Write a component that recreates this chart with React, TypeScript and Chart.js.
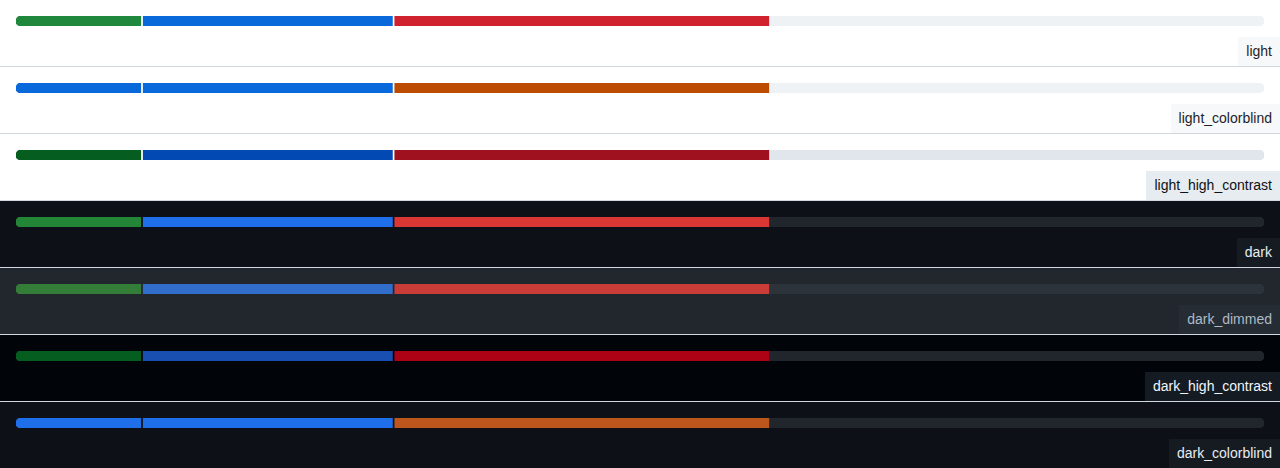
import React, { useEffect, useRef } from "react";
import { Chart, registerables } from "chart.js";

Chart.register(...registerables);

const THEMES = [
  "light",
  "light_colorblind",
  "light_high_contrast",
  "dark",
  "dark_dimmed",
  "dark_high_contrast",
  "dark_colorblind",
];
const SEGMENT_VALUES = [10, 20, 30];
const TRACK_MAX = 100;

const FIRST_COLORS = ["#1f883d", "#0969da", "#055d20", "#238636", "#347d39", "#055d20", "#1f6feb"];
const SECOND_COLORS = ["#0969da", "#0969da", "#0349b4", "#1f6feb", "#316dca", "#194fb1", "#1f6feb"];
const THIRD_COLORS = ["#cf222e", "#bc4c00", "#a0111f", "#da3633", "#c93c37", "#ad0116", "#bd561d"];
const TRACK_COLORS = ["#eff2f5", "#eff2f5", "#e0e6eb", "#21262d", "#2d333b", "#21262d", "#21262d"];
const ROW_BG = ["#ffffff", "#ffffff", "#ffffff", "#0d1117", "#22272e", "#010409", "#0d1117"];
const LABEL_BG = ["#f6f8fa", "#f6f8fa", "#e7ecf0", "#161b22", "#262c33", "#151b23", "#161b22"];
const LABEL_FG = ["#1f2328", "#1f2328", "#0e1116", "#e6edf3", "#adbac7", "#f0f6fc", "#e6edf3"];
const SEPARATOR = "#d0d7de";
const GAP = 2;

const segGapPlugin = {
  id: "segGap",
  beforeDatasetDraw(chart: any, args: any) {
    const ds = chart.data.datasets[args.index];
    if (ds.segIndex > 0) {
      chart.ctx.save();
      chart.ctx.translate(ds.segIndex * GAP, 0);
    }
  },
  afterDatasetDraw(chart: any, args: any) {
    const ds = chart.data.datasets[args.index];
    if (ds.segIndex > 0) {
      const el = args.meta.data[0];
      const ctx = chart.ctx;
      ctx.fillStyle = ds.gapColor;
      ctx.fillRect(el.base - GAP, el.y - el.height / 2, GAP, el.height);
      ctx.restore();
    }
  },
};

function Row({ index }: { index: number }) {
  const ref = useRef<HTMLCanvasElement | null>(null);
  useEffect(() => {
    if (!ref.current) return;
    const colors = [FIRST_COLORS[index], SECOND_COLORS[index], THIRD_COLORS[index]];
    let acc = 0;
    const segs = SEGMENT_VALUES.map((v, i) => {
      const start = acc;
      acc += v;
      return {
        label: "seg" + i,
        data: [[start, acc]],
        backgroundColor: colors[i],
        borderSkipped: false,
        borderRadius: i === 0 ? { topLeft: 5, bottomLeft: 5, topRight: 0, bottomRight: 0 } : 0,
        grouped: false,
        barThickness: 10,
        segIndex: i,
        gapColor: ROW_BG[index],
      } as any;
    });
    const track = {
      label: "track",
      data: [[0, TRACK_MAX]],
      backgroundColor: TRACK_COLORS[index],
      borderSkipped: false,
      borderRadius: 5,
      grouped: false,
      barThickness: 10,
      segIndex: -1,
    } as any;
    const chart = new Chart(ref.current, {
      type: "bar",
      data: { labels: ["progress"], datasets: [...segs, track] },
      options: {
        indexAxis: "y",
        animation: false,
        responsive: false,
        events: [],
        layout: { padding: { left: 16, right: 16, top: 16, bottom: 11 } },
        plugins: { legend: { display: false }, tooltip: { enabled: false } },
        scales: {
          x: { display: false, min: 0, max: TRACK_MAX },
          y: { display: false },
        },
      },
      plugins: [segGapPlugin],
    });
    return () => chart.destroy();
  }, [index]);

  return (
    <div
      style={{
        background: ROW_BG[index],
        borderBottom: `1px solid ${SEPARATOR}`,
        height: 66,
        position: "relative",
      }}
    >
      <canvas ref={ref} width={1280} height={37} style={{ display: "block", width: 1280, height: 37 }} />
      <div
        style={{
          position: "absolute",
          right: 0,
          bottom: 0,
          height: 29,
          lineHeight: "29px",
          padding: "0 8px",
          background: LABEL_BG[index],
          color: LABEL_FG[index],
          fontFamily: '"Liberation Sans", Arial, Helvetica, sans-serif',
          fontSize: 14,
        }}
      >
        {THEMES[index]}
      </div>
    </div>
  );
}

export default function App() {
  return (
    <div style={{ position: "absolute", left: 0, top: 0, width: 1280, height: 468, overflow: "hidden" }}>
      {THEMES.map((_, i) => (
        <Row key={i} index={i} />
      ))}
    </div>
  );
}
